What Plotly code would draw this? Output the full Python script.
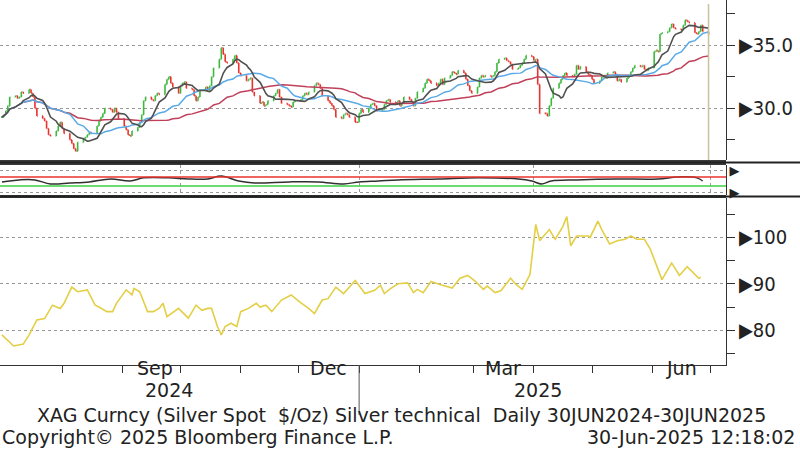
import pandas as pd
import plotly.graph_objects as go

# ---------------- data ----------------
close_jul24 = [29.3,29.5,29.8,30.2,30.9,31.0,30.8,30.9,31.3,31.2,31.5,31.2,30.9,30.0,29.4,29.2,29.0,28.4,27.9,27.8,28.2,28.6,28.9]
close_aug24 = [28.4,28.0,27.5,27.2,26.8,26.6,27.3,27.6,27.7,27.9,28.1,28.0,28.6,29.0,29.3,29.6,30.0,29.9,29.7,30.0,29.7,29.2]
close_sep24 = [28.6,28.3,27.9,27.8,28.2,28.5,28.9,29.5,30.6,30.9,30.7,30.6,31.0,31.2,31.1,31.9,32.3,32.5,32.0,31.7,31.2]
close_oct24 = [31.8,32.0,32.1,31.6,31.5,31.0,30.6,30.9,31.4,31.7,31.4,31.8,32.5,33.2,33.9,34.8,34.3,33.7,33.6,33.9,34.2,33.6,32.8]
close_nov24 = [32.6,32.2,32.3,32.4,31.3,31.0,30.4,30.5,30.2,30.3,30.6,31.0,31.2,31.5,30.9,30.4,30.3,30.2,30.1,30.5,30.6]
close_dec24 = [30.7,31.0,31.2,31.1,31.3,31.8,32.0,31.9,31.6,31.0,30.6,30.4,30.2,29.9,29.3,29.2,29.5,29.6,29.5,29.3,28.9,28.9]
close_jan25 = [29.6,29.9,29.7,30.0,30.3,30.4,30.2,29.8,29.9,30.3,30.6,30.7,30.5,30.4,30.6,30.2,30.4,30.9,30.7,30.5,30.2,30.8,31.3]
close_feb25 = [31.6,32.0,32.3,32.2,32.0,31.8,32.0,32.3,31.9,32.4,32.6,32.9,32.8,32.7,33.0,32.8,32.3,31.8,31.4,31.2]
close_mar25 = [31.7,32.4,32.6,32.5,32.6,32.5,32.6,32.9,33.6,33.9,34.0,33.8,33.7,33.5,33.1,33.2,33.4,33.6,33.9,34.2,34.1]
close_apr25 = [33.8,33.9,31.9,29.6,29.6,29.4,30.2,30.8,31.6,32.0,32.3,32.6,32.8,32.6,32.5,32.7,33.4,33.1,33.3,32.9,32.7,32.6]
close_may25 = [32.3,32.0,32.2,32.5,32.6,32.4,32.8,32.9,32.7,32.2,32.3,32.1,32.4,32.6,32.9,33.2,33.4,33.3,33.4,33.1,33.0,33.2]
close_jun25 = [34.5,34.6,34.5,35.9,36.0,36.1,36.4,36.7,36.4,36.3,36.2,36.6,37.0,36.9,36.8,36.0,35.9,36.1,36.6,36.1,35.9]
months = ["2024-07","2024-08","2024-09","2024-10","2024-11","2024-12",
          "2025-01","2025-02","2025-03","2025-04","2025-05","2025-06"]
month_closes = [close_jul24,close_aug24,close_sep24,close_oct24,close_nov24,close_dec24,
                close_jan25,close_feb25,close_mar25,close_apr25,close_may25,close_jun25]

# middle oscillator (days since 2024-07-01, value)
osc_day = [0,9,17,25,35,45,56,66,73,86,96,106,113,122,130,148,163,176,184,194,204,225,245,266,273,278,283,296,317,338,348,358,361]
osc_val = [48,57,57,39,43,48,61,52,66,66,61,61,74,52,43,48,48,39,48,52,57,61,66,61,52,39,52,57,61,61,70,66,52]

# lower panel line (days since 2024-07-01, value)
ratio_day = [0,6,11,14,18,22,26,30,32,36,39,44,48,50,54,57,59,64,67,68,71,75,78,81,83,85,91,96,100,103,106,108,111,113,115,118,121,123,127,131,133,136,139,144,149,153,158,161,165,168,172,176,182,187,192,195,197,200,204,209,212,214,217,221,226,232,236,240,244,248,250,254,257,262,265,268,272,275,277,282,285,289,291,293,296,302,303,307,309,313,317,321,324,327,331,334,340,345,349,353,359,360]
ratio_val = [79.0,76.6,77.0,79.0,82.2,82.5,85.4,84.7,85.8,89.3,88.3,88.7,85.4,85.0,84.0,84.0,85.8,88.7,87.6,89.0,88.3,84.0,84.0,84.7,85.8,82.9,84.7,82.6,85.4,84.3,84.7,84.7,80.8,79.0,80.8,81.5,80.8,84.0,84.7,85.8,85.0,85.4,84.0,86.5,87.6,86.2,84.7,83.6,86.5,86.8,89.3,87.9,90.7,87.9,88.6,89.7,87.9,88.9,90.0,90.2,88.1,88.8,88.1,90.5,89.8,89.1,91.2,91.8,90.5,88.8,89.5,88.1,88.5,91.2,89.8,88.8,92.0,102.8,99.3,101.7,99.6,102.4,104.5,98.2,100.3,100.3,100.0,103.5,101.7,98.6,99.3,99.6,100.3,99.6,99.6,97.5,90.9,94.5,91.8,93.7,91.2,91.4]

month_labels = ["Sep", "Dec", "Mar", "Jun"]
month_label_dates = ["2024-09-18", "2024-12-16", "2025-03-16", "2025-06-16"]
year_labels = ["2024", "2025"]
year_label_dates = ["2024-09-25", "2025-04-03"]

# ---------------- build series ----------------
dates, closes = [], []
for m, c in zip(months, month_closes):
    d = pd.bdate_range(m + "-01", periods=len(c))
    dates += list(d)
    closes += c
s = pd.Series(closes, index=dates)
opens = [closes[0]] + closes[:-1]
highs = [max(o, c) for o, c in zip(opens, closes)]
lows = [min(o, c) for o, c in zip(opens, closes)]
ma_short = s.rolling(9, min_periods=1).mean()
ma_mid = s.rolling(21, min_periods=1).mean()
ma_long = s.rolling(50, min_periods=1).mean()
base = pd.Timestamp("2024-07-01")
osc_x = [base + pd.Timedelta(days=d) for d in osc_day]
ratio_x = [base + pd.Timedelta(days=d) for d in ratio_day]

W, H = 800, 462
plot_w, plot_h = 726, 365
def py(y):  # pixel y (from top) -> paper fraction
    return (plot_h - y) / plot_h

FONT = "DejaVu Sans"
TFONT = "DejaVu Sans Condensed"
fig = go.Figure()
fig.add_trace(go.Ohlc(x=dates, open=opens, high=highs, low=lows, close=closes,
                      increasing=dict(line=dict(color="#3cb83c", width=1.6)),
                      decreasing=dict(line=dict(color="#e8322d", width=1.6)),
                      tickwidth=0.4, xaxis="x", yaxis="y", hoverinfo="skip"))
fig.add_trace(go.Scatter(x=dates, y=ma_long, mode="lines", line=dict(color="#c0405a", width=1.5), xaxis="x", yaxis="y"))
fig.add_trace(go.Scatter(x=dates, y=ma_mid, mode="lines", line=dict(color="#5aaae8", width=1.5), xaxis="x", yaxis="y"))
fig.add_trace(go.Scatter(x=dates, y=ma_short, mode="lines", line=dict(color="#505050", width=1.6), xaxis="x", yaxis="y"))
fig.add_trace(go.Scatter(x=osc_x, y=osc_val, mode="lines", line=dict(color="#303030", width=1.5, shape="spline"), xaxis="x2", yaxis="y2"))
fig.add_trace(go.Scatter(x=ratio_x, y=ratio_val, mode="lines", line=dict(color="#e3cf45", width=1.6), xaxis="x3", yaxis="y3"))

xr = ["2024-06-30", "2025-07-09"]
common_x = dict(range=xr, zeroline=False, type="date", automargin=False)
ytick = dict(automargin=False, side="right", ticks="outside", ticklen=8, tickcolor="#333",
             showgrid=True, gridcolor="#999", griddash="dot", zeroline=False,
             showline=True, linecolor="#333", tickfont=dict(size=20, color="#222", family=TFONT))
fig.update_layout(
    width=W, height=H, showlegend=False,
    plot_bgcolor="white", paper_bgcolor="white",
    margin=dict(l=0, r=W - plot_w, t=0, b=H - plot_h, autoexpand=False),
    font=dict(family=FONT, color="#222", size=19),
    xaxis=dict(**common_x, anchor="y", showgrid=False, showticklabels=False, ticks="", rangeslider=dict(visible=False)),
    xaxis2=dict(**common_x, anchor="y2", showticklabels=False, ticks="", matches="x",
                showgrid=True, gridcolor="#999", griddash="dot", gridwidth=1,
                tickvals=["2024-10-01", "2025-01-01", "2025-04-01", "2025-07-01"]),
    xaxis3=dict(**common_x, anchor="y3", matches="x", showgrid=False, showticklabels=False,
                ticks="outside", ticklen=7, tickcolor="#333", showline=True, linecolor="#333",
                tickvals=[str(d.date()) for d in pd.date_range("2024-08-01", "2025-07-01", freq="MS")]),
    yaxis=dict(**ytick, domain=[py(160), 1], range=[25.9, 38.6], tickvals=[30, 35],
               ticktext=["▶30.0", "▶35.0"],
               minor=dict(tickvals=[27.5, 32.5, 37.5], ticks="outside", ticklen=8, tickcolor="#333")),
    yaxis2=dict(domain=[py(195), py(165)], range=[-10, 123], side="right", automargin=False,
                tickvals=[0, 100], ticktext=["▶", "▶"], ticks="", showgrid=True,
                gridcolor="#999", griddash="dot", zeroline=False, showline=True, linecolor="#333",
                tickfont=dict(size=13)),
    yaxis3=dict(**ytick, domain=[0, py(198)], range=[72.5, 108.5], tickvals=[80, 90, 100],
                ticktext=["▶80", "▶90", "▶100"],
                minor=dict(tickvals=[75, 85, 95, 105], ticks="outside", ticklen=8, tickcolor="#333")),
)

shapes = []
shapes.append(dict(type="line", xref="x2 domain", yref="y2", x0=0, x1=1, y0=70, y1=70, line=dict(color="#e8322d", width=1.5)))
shapes.append(dict(type="line", xref="x2 domain", yref="y2", x0=0, x1=1, y0=30, y1=30, line=dict(color="#3ccf3c", width=1.5)))
for y0, y1 in [(160, 165), (195, 198)]:
    shapes.append(dict(type="rect", xref="paper", yref="paper", x0=0, x1=1, y0=py(y1), y1=py(y0),
                       fillcolor="#3a3a3a", line=dict(width=0)))
    shapes.append(dict(type="line", xref="paper", yref="paper", x0=0, x1=W / plot_w, y0=py((y0 + y1) / 2), y1=py((y0 + y1) / 2),
                       line=dict(color="#222", width=2)))
shapes.append(dict(type="line", xref="x", yref="paper", x0="2025-06-30", x1="2025-06-30", y0=py(160), y1=py(4),
                   line=dict(color="#c8c39a", width=1.5)))
shapes.append(dict(type="line", xref="x3", yref="paper", x0="2025-01-01", x1="2025-01-01", y0=py(365), y1=py(415),
                   line=dict(color="#555", width=1)))
fig.update_layout(shapes=shapes)

NB = "\u00a0"
ann = []
for t, d in zip(month_labels, month_label_dates):
    ann.append(dict(x=d, y=py(381), xref="x3", yref="paper", text=t, showarrow=False,
                    font=dict(size=19, family=FONT)))
for t, d in zip(year_labels, year_label_dates):
    ann.append(dict(x=d, y=py(403), xref="x3", yref="paper", text=t, showarrow=False,
                    font=dict(size=19, family=FONT)))
ann.append(dict(x=401 / plot_w, y=py(428), xref="paper", yref="paper", xanchor="center",
                text=f"XAG Curncy (Silver Spot {NB}$/Oz) Silver technical {NB}Daily 30JUN2024-30JUN2025",
                showarrow=False, font=dict(size=19, family=FONT)))
ann.append(dict(x=0, y=py(450), xref="paper", yref="paper", xanchor="left",
                text="Copyright© 2025 Bloomberg Finance L.P.", showarrow=False, font=dict(size=19, family=FONT)))
ann.append(dict(x=797 / plot_w, y=py(450), xref="paper", yref="paper", xanchor="right",
                text="30-Jun-2025 12:18:02", showarrow=False, font=dict(size=19, family=FONT)))
fig.update_layout(annotations=ann)

fig.write_html("out.html", config={"displayModeBar": False},
               post_script="document.body.style.margin='0px';document.body.style.overflow='hidden';")
